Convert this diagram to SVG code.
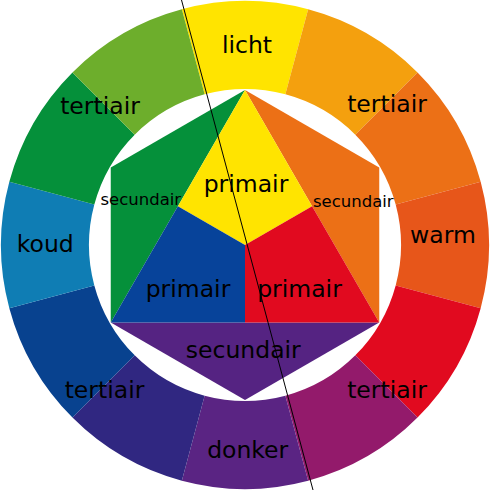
<svg xmlns="http://www.w3.org/2000/svg" width="490" height="490" viewBox="0 0 490 490">
<style>
text{font-family:"DejaVu Sans","Liberation Sans",sans-serif;fill:#000;text-anchor:middle}
.big{font-size:23.5px}
.small{font-size:16.5px}
</style>
<rect width="490" height="490" fill="#fff"/>
<g id="ring">
<g id="seg-licht"><path d="M181.848,9.314 A244,244 0 0 1 308.152,9.314 L285.376,94.316 A156,156 0 0 0 204.624,94.316 Z" fill="#FFE400"/><text class="big" x="247" y="53">licht</text></g>
<g id="seg-yelloworange"><path d="M308.152,9.314 A244,244 0 0 1 417.534,72.466 L355.309,134.691 A156,156 0 0 0 285.376,94.316 Z" fill="#F4A00E"/></g>
<g id="seg-orange"><path d="M417.534,72.466 A244,244 0 0 1 480.686,181.848 L395.684,204.624 A156,156 0 0 0 355.309,134.691 Z" fill="#EC7016"/></g>
<g id="seg-warm"><path d="M480.686,181.848 A244,244 0 0 1 480.686,308.152 L395.684,285.376 A156,156 0 0 0 395.684,204.624 Z" fill="#E7561A"/><text class="big" x="443" y="243.3">warm</text></g>
<g id="seg-red"><path d="M480.686,308.152 A244,244 0 0 1 417.534,417.534 L355.309,355.309 A156,156 0 0 0 395.684,285.376 Z" fill="#E10A1F"/></g>
<g id="seg-redviolet"><path d="M417.534,417.534 A244,244 0 0 1 308.152,480.686 L285.376,395.684 A156,156 0 0 0 355.309,355.309 Z" fill="#931A6B"/></g>
<g id="seg-donker"><path d="M308.152,480.686 A244,244 0 0 1 181.848,480.686 L204.624,395.684 A156,156 0 0 0 285.376,395.684 Z" fill="#5A2483"/><text class="big" x="247.7" y="458.3">donker</text></g>
<g id="seg-blueviolet"><path d="M181.848,480.686 A244,244 0 0 1 72.466,417.534 L134.691,355.309 A156,156 0 0 0 204.624,395.684 Z" fill="#302781"/></g>
<g id="seg-blue"><path d="M72.466,417.534 A244,244 0 0 1 9.314,308.152 L94.316,285.376 A156,156 0 0 0 134.691,355.309 Z" fill="#08428F"/></g>
<g id="seg-koud"><path d="M9.314,308.152 A244,244 0 0 1 9.314,181.848 L94.316,204.624 A156,156 0 0 0 94.316,285.376 Z" fill="#0F7DB4"/><text class="big" x="45.3" y="252.3">koud</text></g>
<g id="seg-green"><path d="M9.314,181.848 A244,244 0 0 1 72.466,72.466 L134.691,134.691 A156,156 0 0 0 94.316,204.624 Z" fill="#05903A"/></g>
<g id="seg-yellowgreen"><path d="M72.466,72.466 A244,244 0 0 1 181.848,9.314 L204.624,94.316 A156,156 0 0 0 134.691,134.691 Z" fill="#6DAE2C"/></g>
<g id="labels-tertiair">
<text class="big" x="100" y="114">tertiair</text>
<text class="big" x="387" y="112">tertiair</text>
<text class="big" x="104.5" y="397.7">tertiair</text>
<text class="big" x="387" y="397.7">tertiair</text>
</g>
</g>
<g id="secondary">
<g id="sec-green"><polygon points="245,90 110.77,167.5 110.77,322.5" fill="#05903A"/></g>
<g id="sec-orange"><polygon points="245,90 379.23,167.5 379.23,322.5" fill="#EC7016"/></g>
<g id="sec-violet"><polygon points="110.77,322.5 379.23,322.5 245,400" fill="#552382"/></g>
</g>
<g id="primary">
<g id="pri-yellow"><polygon points="245,90 312.115,206.25 245,245 177.885,206.25" fill="#FFE400"/></g>
<g id="pri-red"><polygon points="312.115,206.25 379.23,322.5 245,322.5 245,245" fill="#E10A1F"/></g>
<g id="pri-blue"><polygon points="177.885,206.25 245,245 245,322.5 110.77,322.5" fill="#07439A"/></g>
</g>
<g id="inner-labels">
<text class="big" x="246" y="191.7">primair</text>
<text class="big" x="188" y="296.7">primair</text>
<text class="big" x="299.5" y="296.7">primair</text>
<text class="small" x="140.8" y="205">secundair</text>
<text class="small" x="353.3" y="206.7">secundair</text>
<text class="big" x="243.3" y="358.3">secundair</text>
</g>
<g id="connectors">
<line x1="181.5" y1="0" x2="313" y2="490" stroke="#000" stroke-width="1"/>
</g>
</svg>
